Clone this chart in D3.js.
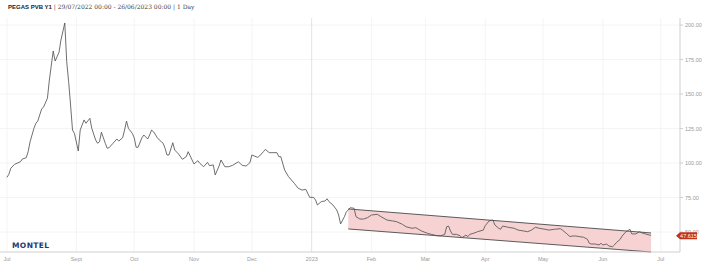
<!DOCTYPE html>
<html>
<head>
<meta charset="utf-8">
<script src="https://cdn.jsdelivr.net/npm/d3@7"></script>
<style>
  body { margin: 0; background: #fff; }
  svg { display: block; }
  .tick-label { font-family: "Liberation Sans", Arial, sans-serif; font-size: 5.5px; fill: #9a9a9a; }
</style>
</head>
<body>
<svg id="chart" width="710" height="267"></svg>
<script>
// series
var dates = [
  "2022-07-27","2022-07-28","2022-07-29","2022-07-31","2022-08-03","2022-08-04","2022-08-06","2022-08-07",
  "2022-08-08","2022-08-10","2022-08-11","2022-08-12","2022-08-13","2022-08-14","2022-08-15","2022-08-17",
  "2022-08-18","2022-08-20","2022-08-21","2022-08-23","2022-08-24","2022-08-26","2022-08-27","2022-08-28",
  "2022-08-29","2022-08-30","2022-08-31","2022-09-02","2022-09-03","2022-09-05","2022-09-06","2022-09-08",
  "2022-09-09","2022-09-11","2022-09-12","2022-09-13","2022-09-14","2022-09-16","2022-09-17","2022-09-18",
  "2022-09-20","2022-09-22","2022-09-23","2022-09-25","2022-09-26","2022-09-27","2022-09-28","2022-09-30",
  "2022-10-01","2022-10-02","2022-10-03","2022-10-05","2022-10-06","2022-10-08","2022-10-09","2022-10-10",
  "2022-10-11","2022-10-13","2022-10-14","2022-10-16","2022-10-17","2022-10-18","2022-10-19","2022-10-21",
  "2022-10-22","2022-10-24","2022-10-26","2022-10-28","2022-10-29","2022-10-31","2022-11-01","2022-11-03",
  "2022-11-04","2022-11-06","2022-11-08","2022-11-09","2022-11-11","2022-11-12","2022-11-14","2022-11-15",
  "2022-11-17","2022-11-19","2022-11-21","2022-11-24","2022-11-26","2022-11-28","2022-11-30","2022-12-01",
  "2022-12-04","2022-12-05","2022-12-07","2022-12-08","2022-12-10","2022-12-12","2022-12-14","2022-12-15",
  "2022-12-16","2022-12-18","2022-12-20","2022-12-23","2022-12-25","2022-12-27","2022-12-29","2022-12-31",
  "2023-01-02","2023-01-03","2023-01-04","2023-01-06","2023-01-08","2023-01-09","2023-01-10","2023-01-12",
  "2023-01-14","2023-01-15","2023-01-16","2023-01-18","2023-01-19","2023-01-20","2023-01-21","2023-01-23",
  "2023-01-24","2023-01-26","2023-01-28","2023-01-30","2023-02-01","2023-02-04","2023-02-06","2023-02-09",
  "2023-02-12","2023-02-14","2023-02-17","2023-02-19","2023-02-22","2023-02-24","2023-02-27","2023-03-02",
  "2023-03-04","2023-03-07","2023-03-09","2023-03-11","2023-03-12","2023-03-13","2023-03-14","2023-03-15",
  "2023-03-17","2023-03-19","2023-03-20","2023-03-22","2023-03-23","2023-03-24","2023-03-26","2023-03-28",
  "2023-03-31","2023-04-01","2023-04-03","2023-04-05","2023-04-06","2023-04-08","2023-04-09","2023-04-10",
  "2023-04-13","2023-04-16","2023-04-18","2023-04-21","2023-04-23","2023-04-25","2023-04-27","2023-04-29",
  "2023-05-02","2023-05-04","2023-05-07","2023-05-10","2023-05-11","2023-05-13","2023-05-15","2023-05-16",
  "2023-05-18","2023-05-20","2023-05-22","2023-05-24","2023-05-25","2023-05-26","2023-05-28","2023-05-30",
  "2023-05-31","2023-06-01","2023-06-03","2023-06-04","2023-06-06","2023-06-07","2023-06-08","2023-06-10",
  "2023-06-11","2023-06-13","2023-06-14","2023-06-15","2023-06-16","2023-06-18","2023-06-20","2023-06-21",
  "2023-06-23","2023-06-25","2023-06-26"
];
var prices = [
  89.6, 91.8, 96.2, 99.1, 100.9, 102.9, 103.8, 108.2,
  115.4, 125.1, 128.8, 130.4, 134.8, 139.1, 140.6, 146.9,
  160.1, 181.2, 173.9, 180.2, 189.1, 201.5, 173.4, 158.9,
  142.0, 123.9, 121.5, 108.7, 123.9, 131.2, 128.8, 132.4,
  125.1, 116.7, 114.3, 115.4, 122.3, 114.3, 110.7, 111.1,
  114.3, 117.4, 115.9, 118.3, 123.9, 130.4, 125.1, 121.5,
  118.3, 111.4, 111.4, 118.3, 120.3, 117.4, 120.3, 123.9,
  122.7, 118.3, 116.7, 114.3, 110.7, 105.8, 105.8, 114.7,
  109.4, 106.5, 102.7, 104.6, 108.2, 102.2, 99.3, 101.7,
  99.8, 97.3, 100.5, 98.1, 98.6, 91.3, 97.8, 102.2,
  97.3, 97.3, 98.3, 100.9, 98.3, 97.8, 100.2, 105.8,
  104.1, 105.1, 108.2, 109.9, 107.5, 107.5, 107.5, 104.6,
  104.6, 94.9, 90.1, 85.3, 81.7, 80.4, 80.9, 75.1,
  75.1, 73.2, 69.6, 72.0, 72.5, 74.1, 72.0, 69.6,
  66.0, 62.3, 55.8, 61.1, 64.7, 65.9, 67.6, 67.2,
  61.1, 59.4, 59.4, 60.4, 62.3, 62.8, 61.1, 58.7,
  58.0, 57.5, 55.6, 53.8, 52.7, 53.1, 50.7, 49.1,
  48.3, 47.3, 47.3, 48.3, 53.8, 54.3, 50.7, 48.3,
  48.3, 47.3, 45.9, 47.8, 46.6, 48.3, 49.1, 50.2,
  51.4, 54.6, 58.0, 58.7, 55.1, 52.7, 52.0, 54.3,
  53.4, 52.7, 51.4, 50.7, 50.2, 51.4, 53.4, 52.7,
  52.0, 51.4, 52.0, 52.4, 51.4, 49.1, 46.6, 47.1,
  47.1, 46.6, 46.2, 44.7, 41.8, 41.3, 41.3, 40.6,
  41.8, 40.6, 41.3, 39.9, 39.3, 40.6, 42.3, 44.7,
  47.1, 50.2, 51.0, 52.0, 48.6, 48.6, 50.2, 49.5,
  48.6, 47.8, 47.615
];

// falling channel drawn over 2023
var channelDates = ["2023-01-20", "2023-06-26"];
var channelTop = [66.7, 49.3];
var channelBottom = [52.2, 35.5];

var tickDates = ["2022-07-27","2022-09-01","2022-10-01","2022-11-01","2022-12-01","2023-01-01",
                 "2023-02-01","2023-03-01","2023-04-01","2023-05-01","2023-06-01","2023-07-01"];
var tickLabels = ["Jul","Sept","Oct","Nov","Dec","2023","Feb","Mar","Apr","May","Jun","Jul"];
var yTicks = [50, 75, 100, 125, 150, 175, 200];

var titleName = "PEGAS PVB Y1";
var titleInfo = " | 29/07/2022 00:00 - 26/06/2023 00:00 | 1 Day";
var lastValue = "47.615";

var parse = d3.timeParse("%Y-%m-%d");
var svg = d3.select("#chart");

var x = d3.scaleTime()
  .domain([parse("2022-07-26"), parse("2023-07-11")])
  .range([5, 680]);
var y = d3.scaleLinear()
  .domain([35.5, 205.1])
  .range([252, 18]);

// grid
svg.append("g").selectAll("line")
  .data(yTicks)
  .enter()
    .append("line")
      .attr("x1", 0).attr("x2", 680)
      .attr("y1", function(d) { return y(d); })
      .attr("y2", function(d) { return y(d); })
      .attr("stroke", "#f1f1f1")
      .attr("stroke-width", 0.8);

svg.append("g").selectAll("line")
  .data(tickDates)
  .enter()
    .append("line")
      .attr("x1", function(d) { return x(parse(d)); })
      .attr("x2", function(d) { return x(parse(d)); })
      .attr("y1", 18).attr("y2", 252)
      .attr("stroke", function(d) { return d == "2023-01-01" ? "#dcdcdc" : "#f1f1f1"; })
      .attr("stroke-width", 0.8);

// channel
var channel = channelDates.map(function(d, i) { return [x(parse(d)), y(channelTop[i])]; })
  .concat(channelDates.slice().reverse().map(function(d, i) {
    return [x(parse(d)), y(channelBottom.slice().reverse()[i])];
  }));

svg.append("polygon")
  .attr("points", channel.map(function(p) { return p.join(","); }).join(" "))
  .attr("fill", "#f6d2d2");

svg.append("g").selectAll("line")
  .data([channelTop, channelBottom])
  .enter()
    .append("line")
      .attr("x1", x(parse(channelDates[0])))
      .attr("x2", x(parse(channelDates[1])))
      .attr("y1", function(d) { return y(d[0]); })
      .attr("y2", function(d) { return y(d[1]); })
      .attr("stroke", "#4a4a4a")
      .attr("stroke-width", 0.9);

// price line
var line = d3.line()
  .x(function(d, i) { return x(parse(dates[i])); })
  .y(function(d) { return y(d); });

svg.append("path")
  .datum(prices)
  .attr("d", line)
  .attr("fill", "none")
  .attr("stroke", "#555")
  .attr("stroke-width", 0.85);

// axes
svg.append("line")
  .attr("x1", 0).attr("x2", 680).attr("y1", 252).attr("y2", 252)
  .attr("stroke", "#cfcfcf");
svg.append("line")
  .attr("x1", 680).attr("x2", 680).attr("y1", 18).attr("y2", 252)
  .attr("stroke", "#cfcfcf");

svg.append("g").selectAll("text")
  .data(tickDates)
  .enter()
    .append("text")
      .attr("class", "tick-label")
      .attr("x", function(d) { return x(parse(d)); })
      .attr("y", 261)
      .attr("text-anchor", "middle")
      .text(function(d, i) { return tickLabels[i]; });

var yAxis = svg.append("g").selectAll("g")
  .data(yTicks)
  .enter()
    .append("g");
yAxis.append("line")
  .attr("x1", 680).attr("x2", 683)
  .attr("y1", function(d) { return y(d); })
  .attr("y2", function(d) { return y(d); })
  .attr("stroke", "#cfcfcf");
yAxis.append("text")
  .attr("class", "tick-label")
  .attr("x", 685)
  .attr("y", function(d) { return y(d) + 2; })
  .text(function(d) { return d3.format(".2f")(d); });

// last value flag, sits over the 50.00 label as in the original
var ly = y(+lastValue) + 0.5;
svg.append("path")
  .attr("d", "M676," + ly + "L680," + (ly - 3.5) + "H697V" + (ly + 3.5) + "H680Z")
  .attr("fill", "#c0311d");
svg.append("text")
  .attr("x", 688.5)
  .attr("y", ly + 2)
  .attr("text-anchor", "middle")
  .attr("font-family", "Liberation Sans, Arial, sans-serif")
  .attr("font-size", "5.5px")
  .attr("fill", "#fff")
  .text(lastValue);

// title
var title = svg.append("text")
  .attr("x", 8)
  .attr("y", 9)
  .attr("font-size", "6px")
  .attr("fill", "#222");
title.append("tspan")
  .attr("font-family", "Liberation Sans, Arial, sans-serif")
  .attr("font-weight", "bold")
  .text(titleName);
title.append("tspan")
  .attr("font-family", "DejaVu Serif, serif")
  .attr("fill", "#444")
  .text(titleInfo);

// logo
svg.append("text")
  .attr("x", 12)
  .attr("y", 248)
  .attr("font-family", "DejaVu Sans, sans-serif")
  .attr("font-weight", "900")
  .attr("font-size", "7.5px")
  .attr("letter-spacing", "0.4px")
  .attr("fill", "#1e3b6e")
  .text("MONTEL");
</script>
</body>
</html>
